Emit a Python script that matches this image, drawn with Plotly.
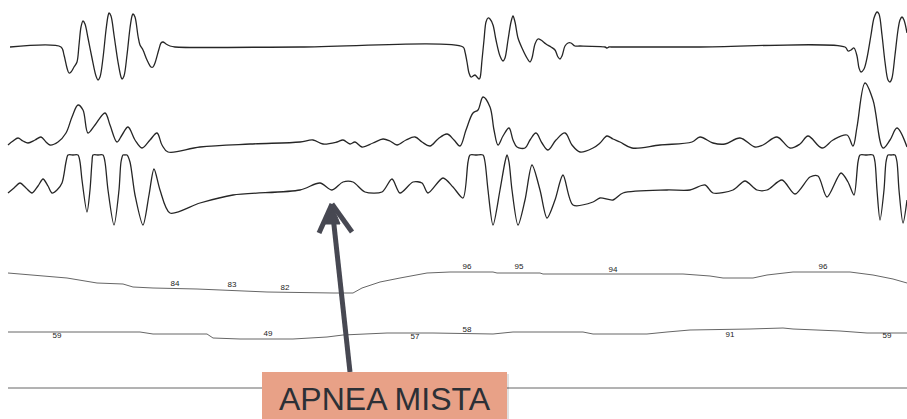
import plotly.graph_objects as go

# ---- Channel 1: nasal airflow (time, amplitude) ----
flow_t = [10, 61, 64, 67, 69, 71, 74, 77, 79, 81, 83, 85, 88, 92, 96, 98, 100, 103, 106, 108, 109, 111, 114, 118, 121, 122, 124,
          127, 130, 132, 133, 135, 138, 140, 143, 147, 151, 153, 155, 159, 161, 163, 166, 170, 175,
          300, 463, 465, 467, 469, 471, 473, 475, 477, 479, 480, 482, 484, 486, 488, 490, 493, 496, 500, 503, 505, 508, 511, 513,
          515, 518, 522, 527, 530, 532, 535, 538, 541, 546, 551, 555, 558, 560, 562, 565, 568, 571, 575, 580,
          605, 607, 609, 611, 700, 845, 848, 851, 854, 857, 859, 861, 864, 867, 871, 874, 877, 879, 882, 885, 888, 890, 892,
          895, 898, 900, 902, 904, 907]
flow_v = [47, 47, 55, 68, 73, 72, 67, 62, 45, 27, 21, 24, 38, 58, 76, 80, 77, 58, 30, 16, 13, 16, 35, 62, 77, 79, 76,
          55, 28, 16, 14, 17, 36, 45, 50, 60, 67, 67, 63, 49, 43, 42, 44, 46, 47,
          47, 47, 52, 62, 73, 77, 76, 75, 77, 79, 78, 60, 40, 22, 18, 19, 25, 40, 56, 61, 58, 40, 22, 16,
          22, 38, 48, 58, 62, 58, 44, 39, 40, 44, 47, 50, 57, 59, 56, 46, 43, 43, 46, 46,
          47, 48, 47, 47, 47, 47, 51, 50, 48, 56, 68, 72, 69, 58, 35, 18, 12, 14, 35, 62, 80, 82, 78,
          55, 30, 20, 17, 20, 33]

# ---- Channel 2: thoracic effort ----
thor_t = [8, 13, 18, 23, 28, 35, 41, 46, 50, 58, 66, 72, 78, 83, 88, 95, 105, 110, 117, 122, 128, 135, 142, 150, 157, 162, 168,
          200, 250, 300, 313, 323, 337, 343, 350, 355, 362, 373, 383, 390, 397, 406, 415, 422, 430, 438, 447, 454, 460, 466,
          473, 478, 483, 490, 494, 498, 503, 509, 513, 517, 525, 530, 536, 542, 548, 556, 565, 572, 580, 593, 600,
          607, 613, 620, 632, 660, 692, 700, 713, 725, 740, 755, 763, 777, 790, 800, 808, 822, 833, 847, 853,
          857, 865, 873, 883, 890, 897, 907]
thor_v = [145, 141, 138, 141, 143, 140, 137, 142, 145, 142, 133, 117, 105, 110, 133, 125, 113, 125, 142, 135, 127, 140, 148, 140, 133, 145, 152,
          147, 144, 142, 140, 144, 142, 140, 144, 142, 147, 143, 139, 141, 145, 140, 137, 142, 146, 139, 134, 140, 146, 130,
          113, 110, 97, 107, 130, 145, 136, 128, 140, 147, 148, 140, 133, 143, 150, 140, 133, 145, 152, 148, 143,
          136, 139, 142, 148, 145, 142, 137, 143, 144, 138, 147, 145, 137, 148, 144, 136, 148, 140, 135, 146,
          127, 83, 100, 148, 140, 128, 147]

# ---- Channel 3: abdominal effort ----
abd_t = [8, 14, 20, 26, 32, 38, 43, 48, 52, 57, 62, 66, 68, 73, 78, 80, 82, 87, 90, 92, 93, 98, 103, 105, 108, 114, 119, 121, 123, 125, 127, 130,
         135, 143, 149, 154, 160, 170,
         200, 233, 300, 320, 332, 343, 353, 365, 382, 392, 400, 413, 422, 428, 443, 453, 463, 468, 470, 476, 483, 485, 488, 493, 500,
         505, 507, 509, 512, 518,
         525, 532, 540, 547, 555, 563, 573, 593, 600, 613, 623, 667, 690, 705, 713, 733, 745, 757, 767, 782, 795, 810, 818, 827,
         841, 848, 854, 858, 860, 866, 873, 875, 877, 880, 884, 886, 888, 891, 895, 897, 899, 903, 907]
abd_v = [193, 188, 183, 188, 193, 186, 179, 186, 193, 190, 183, 162, 155, 155, 155, 162, 180, 212, 190, 162, 155, 155, 155, 162, 190, 225, 190, 162, 155, 155, 155, 162,
         195, 225, 195, 169, 190, 213,
         203, 195, 190, 183, 190, 182, 182, 192, 192, 179, 193, 182, 183, 193, 178, 187, 198, 162, 155, 155, 155, 162, 190, 225, 190,
         162, 155, 162, 190, 225,
         200, 165, 190, 218, 200, 175, 205, 202, 198, 200, 193, 190, 190, 185, 193, 190, 181, 190, 190, 180, 194, 177, 176, 197,
         173, 182, 195, 162, 155, 155, 155, 162, 190, 220, 190, 162, 155, 155, 155, 162, 190, 223, 200]

# ---- Channel 4: SpO2 trend with printed values ----
spo2_t = [8, 33, 67, 97, 123, 133, 153, 197, 267, 333, 353, 362, 380, 400, 427, 450, 493, 497, 540, 543, 683, 710, 723, 753, 767,
          793, 850, 873, 893, 907]
spo2_v = [273, 275, 278, 283, 284, 287, 288, 289, 292, 293, 293, 288, 282, 278, 273, 272, 272, 273, 273, 274, 274, 276, 278, 278, 275,
          272, 272, 275, 279, 283]
spo2_lab_t = [175, 232, 285, 467, 519, 613, 823]
spo2_lab_v = [284, 285, 288, 267, 267, 270, 267]
spo2_lab = ["84", "83", "82", "96", "95", "94", "96"]

# ---- Channel 5: heart rate trend with printed values ----
hr_t = [8, 47, 140, 153, 207, 213, 240, 293, 327, 343, 387, 433, 493, 513, 583, 593, 647, 667, 690, 750, 783, 793, 840, 867, 907]
hr_v = [332, 332, 332, 334, 334, 338, 339, 339, 337, 335, 333, 333, 334, 332, 332, 334, 334, 332, 330, 329, 328, 329, 331, 333, 333]
hr_lab_t = [57, 268, 415, 467, 730, 887]
hr_lab_v = [336, 334, 337, 330, 335, 336]
hr_lab = ["59", "49", "57", "58", "91", "59"]

# ---- Channel 6: flat channel ----
flat_t = [8, 907]
flat_v = [388, 388]

# ---- Event label ----
event_text = "APNEA MISTA"
arrow_tip = (332, 204)
arrow_tail = (350, 372)
box_x = (262, 507)
box_y = (372, 419)

fig = go.Figure()
wave_col = "#262626"
for t, v, sm in [(flow_t, flow_v, 0.9), (thor_t, thor_v, 1.0), (abd_t, abd_v, 0.8)]:
    fig.add_trace(go.Scatter(x=t, y=v, mode="lines", line=dict(color=wave_col, width=1.3, shape="spline", smoothing=sm),
                             hoverinfo="skip", showlegend=False))
for t, v in [(spo2_t, spo2_v), (hr_t, hr_v), (flat_t, flat_v)]:
    fig.add_trace(go.Scatter(x=t, y=v, mode="lines", line=dict(color="#666666", width=1),
                             hoverinfo="skip", showlegend=False))
for t, v, s in [(spo2_lab_t, spo2_lab_v, spo2_lab), (hr_lab_t, hr_lab_v, hr_lab)]:
    fig.add_trace(go.Scatter(x=t, y=v, mode="text", text=s,
                             textfont=dict(family="Liberation Sans, Arial", size=8, color="#222222"),
                             hoverinfo="skip", showlegend=False))

arrow_col = "#474852"
shapes = [
    dict(type="line", x0=arrow_tail[0], y0=arrow_tail[1], x1=arrow_tip[0] + 1, y1=arrow_tip[1] + 12,
         line=dict(color=arrow_col, width=5)),
    dict(type="path", path=f"M {arrow_tip[0]},{arrow_tip[1]} L {arrow_tip[0]-7},{arrow_tip[1]+20} L {arrow_tip[0]+8},{arrow_tip[1]+20} Z",
         fillcolor=arrow_col, line=dict(color=arrow_col, width=1)),
    dict(type="line", x0=arrow_tip[0], y0=arrow_tip[1], x1=arrow_tip[0] - 13, y1=arrow_tip[1] + 29,
         line=dict(color=arrow_col, width=5)),
    dict(type="line", x0=arrow_tip[0], y0=arrow_tip[1], x1=arrow_tip[0] + 20, y1=arrow_tip[1] + 28,
         line=dict(color=arrow_col, width=5)),
    dict(type="rect", x0=box_x[0] + 2, x1=box_x[1] + 2, y0=box_y[0] + 2, y1=box_y[1] + 2,
         fillcolor="rgba(0,0,0,0.12)", line=dict(width=0)),
    dict(type="rect", x0=box_x[0], x1=box_x[1], y0=box_y[0], y1=box_y[1],
         fillcolor="#E8A187", line=dict(width=0)),
]
fig.update_layout(shapes=shapes)
fig.add_annotation(x=(box_x[0] + box_x[1]) / 2, y=398.5, text=event_text, showarrow=False,
                   font=dict(family="Liberation Sans, Arial", size=32, color="#2c3036"),
                   xanchor="center", yanchor="middle")

fig.update_layout(
    width=907, height=419, margin=dict(l=0, r=0, t=0, b=0),
    paper_bgcolor="white", plot_bgcolor="white",
    xaxis=dict(range=[0, 907], visible=False, fixedrange=True),
    yaxis=dict(range=[419, 0], visible=False, fixedrange=True),
)
fig.write_html("out.html", config={"displayModeBar": False},
               post_script="document.body.style.margin='0';document.body.style.overflow='hidden';")
